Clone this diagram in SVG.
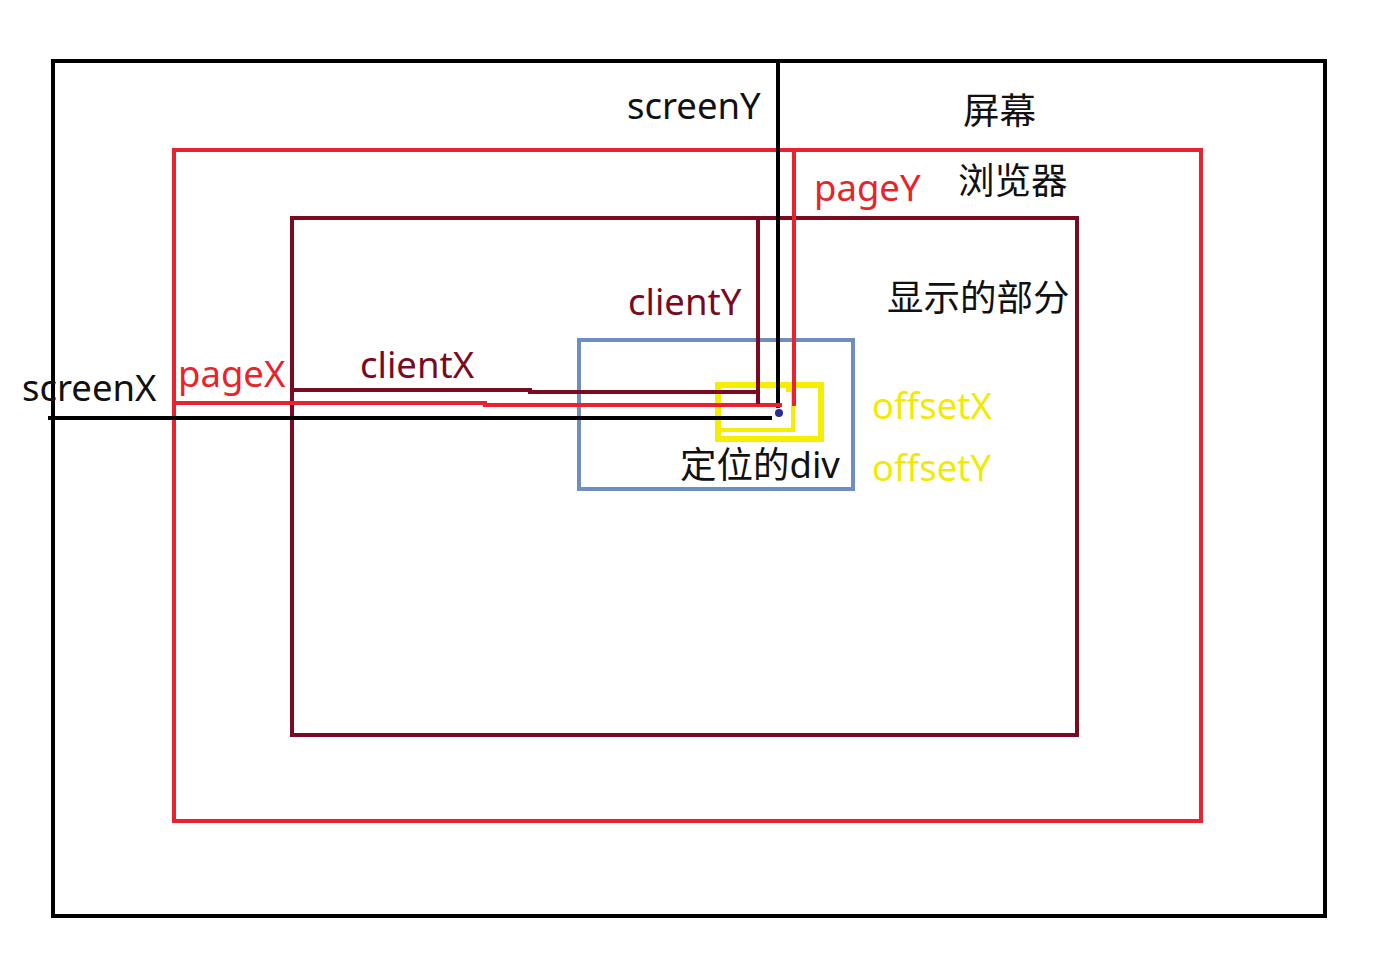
<svg xmlns="http://www.w3.org/2000/svg" width="1378" height="960" viewBox="0 0 1378 960">
<style>
.t{font-family:"Noto Sans","Noto Sans CJK SC",sans-serif;font-size:36.5px}
.k{fill:#111}
.r{fill:#e8232b}
.d{fill:#7a0a1f}
.y{fill:#f2ea00}
.box{fill:none;stroke-width:4}
.ln{fill:none;stroke-width:4}
</style>
<rect width="1378" height="960" fill="#fff"/>
<g id="screen">
<rect class="box" x="53" y="61" width="1272" height="855" stroke="#000"/>
<text class="t k" x="963" y="124">屏幕</text>
</g>
<g id="browser">
<rect class="box" x="174" y="150" width="1027" height="671" stroke="#e8232b"/>
<text class="t k" x="958" y="194">浏览器</text>
</g>
<g id="display">
<rect class="box" x="292" y="218" width="785" height="517" stroke="#7a0a1f"/>
<text class="t k" x="887" y="311">显示的部分</text>
</g>
<g id="div">
<rect class="box" x="579" y="340" width="274" height="149" stroke="#6d8ebf"/>
<text class="t k" x="680" y="478">定位的div</text>
</g>
<g id="offset">
<rect x="718" y="385" width="103" height="54" fill="none" stroke="#f5ee00" stroke-width="6"/>
<polyline points="720,430 793,430 793,390 786,390" fill="none" stroke="#f5ee00" stroke-width="4"/>
<text class="t y" x="872" y="419">offsetX</text>
<text class="t y" x="872" y="481">offsetY</text>
</g>
<g id="connectors">
<line class="ln" x1="778" y1="61" x2="778" y2="408" stroke="#000"/>
<line class="ln" x1="48" y1="418" x2="772" y2="418" stroke="#000"/>
<line class="ln" x1="794" y1="150" x2="794" y2="406" stroke="#e8232b"/>
<polyline class="ln" points="174,403 485,403 485,405 782,405" stroke="#e8232b"/>
<line class="ln" x1="758" y1="218" x2="758" y2="404" stroke="#7a0a1f"/>
<polyline class="ln" points="292,390 530,390 530,392 760,392" stroke="#7a0a1f"/>
<circle cx="779" cy="413" r="4" fill="#2a2a9a"/>
</g>
<g id="labels">
<text class="t k" x="627" y="119">screenY</text>
<text class="t r" x="814" y="201">pageY</text>
<text class="t d" x="628" y="315">clientY</text>
<text class="t k" x="22" y="401">screenX</text>
<text class="t r" x="178" y="387">pageX</text>
<text class="t d" x="360" y="378">clientX</text>
</g>
</svg>
